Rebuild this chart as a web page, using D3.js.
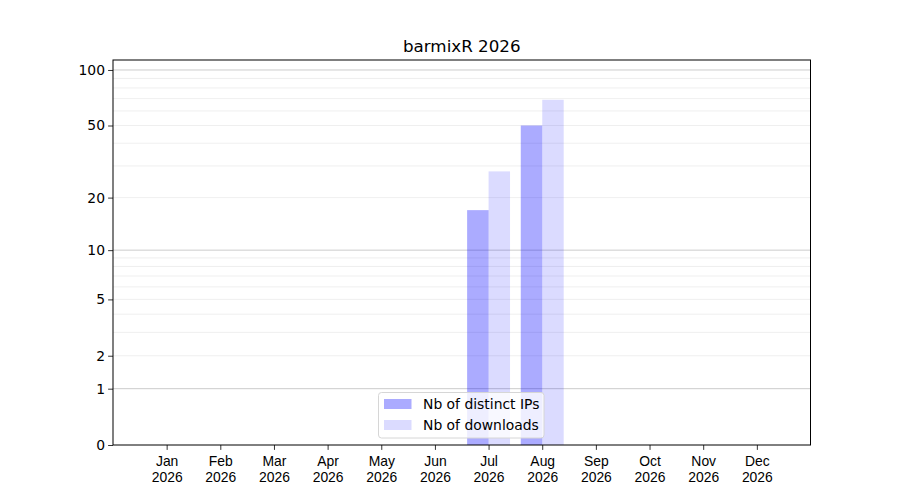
<!DOCTYPE html>
<html>
<head>
<meta charset="utf-8">
<script src="https://cdn.jsdelivr.net/npm/d3@7"></script>
<style>
  body { margin: 0; background: #fff; }
  svg { font-family: "DejaVu Sans", sans-serif; }
</style>
</head>
<body>
<svg id="chart"></svg>
<script>
// Data
const months = ['Jan', 'Feb', 'Mar', 'Apr', 'May', 'Jun', 'Jul', 'Aug', 'Sep', 'Oct', 'Nov', 'Dec'];
const year = '2026';
const distinctIPs = [0, 0, 0, 0, 0, 0, 17, 50, 0, 0, 0, 0];
const downloads = [0, 0, 0, 0, 0, 0, 28, 69, 0, 0, 0, 0];
const yTicks = [0, 1, 2, 5, 10, 20, 50, 100];
const majorGrid = [1, 10, 100];
const minorGrid = [2, 3, 4, 5, 6, 7, 8, 9, 20, 30, 40, 50, 60, 70, 80, 90];

const width = 900, height = 500;
const margin = {top: 60, right: 89.5, bottom: 55, left: 113};
const innerW = width - margin.left - margin.right;
const innerH = height - margin.top - margin.bottom;

const svg = d3.select('#chart')
    .attr('width', width)
    .attr('height', height);

const chart = svg.append('g')
    .attr('transform', `translate(${margin.left},${margin.top})`);

// Scales
const xScale = d3.scaleLinear()
    .domain([0, months.length + 1])
    .range([0, innerW]);

const yScale = d3.scaleSymlog()
    .constant(1)
    .domain([0, 113.2])
    .range([innerH, 0]);

const barW = 0.4;

// Grid lines
chart.selectAll('.minor-grid')
    .data(minorGrid)
  .join('line')
    .attr('class', 'minor-grid')
    .attr('x1', 0).attr('x2', innerW)
    .attr('y1', d => yScale(d)).attr('y2', d => yScale(d))
    .attr('stroke', '#ebebeb')
    .attr('stroke-width', 0.8);

chart.selectAll('.major-grid')
    .data(majorGrid)
  .join('line')
    .attr('class', 'major-grid')
    .attr('x1', 0).attr('x2', innerW)
    .attr('y1', d => yScale(d)).attr('y2', d => yScale(d))
    .attr('stroke', '#cccccc')
    .attr('stroke-width', 1);

// Bars
chart.selectAll('.bar-ip')
    .data(distinctIPs)
  .join('rect')
    .attr('class', 'bar-ip')
    .attr('x', (d, i) => xScale(i + 1 - barW))
    .attr('width', xScale(barW) - xScale(0))
    .attr('y', d => yScale(d))
    .attr('height', d => innerH - yScale(d))
    .attr('fill', '#0000ff')
    .attr('fill-opacity', 0.33);

chart.selectAll('.bar-dl')
    .data(downloads)
  .join('rect')
    .attr('class', 'bar-dl')
    .attr('x', (d, i) => xScale(i + 1))
    .attr('width', xScale(barW) - xScale(0))
    .attr('y', d => yScale(d))
    .attr('height', d => innerH - yScale(d))
    .attr('fill', '#0000ff')
    .attr('fill-opacity', 0.14);

// Axes
const xAxis = d3.axisBottom(xScale)
    .tickValues(d3.range(1, months.length + 1))
    .tickFormat('')
    .tickSize(4.9)
    .tickSizeOuter(0);

const yAxis = d3.axisLeft(yScale)
    .tickValues(yTicks)
    .tickFormat(d3.format('d'))
    .tickSize(4.9)
    .tickSizeOuter(0);

const xAxisG = chart.append('g')
    .attr('transform', `translate(0,${innerH})`)
    .call(xAxis);

xAxisG.selectAll('.tick').each(function(d) {
  const t = d3.select(this).append('text')
      .attr('fill', '#000')
      .attr('text-anchor', 'middle')
      .style('font-size', '13.9px');
  t.append('tspan').attr('x', 0).attr('y', 21).text(months[d - 1]);
  t.append('tspan').attr('x', 0).attr('y', 37).text(year);
});

const yAxisG = chart.append('g').call(yAxis);
yAxisG.selectAll('text')
    .attr('x', -8)
    .style('font-size', '13.9px')
    .style('font-family', '"DejaVu Sans", sans-serif');

[xAxisG, yAxisG].forEach(g => {
  g.select('.domain').remove();
  g.selectAll('.tick line').attr('stroke', '#000').attr('stroke-width', 0.8);
});

// Frame
chart.append('rect')
    .attr('width', innerW)
    .attr('height', innerH)
    .attr('fill', 'none')
    .attr('stroke', '#000')
    .attr('stroke-width', 1);

// Title
svg.append('text')
    .attr('x', margin.left + innerW / 2)
    .attr('y', margin.top - 8)
    .attr('text-anchor', 'middle')
    .style('font-size', '16.7px')
    .text(`barmixR ${year}`);

// Legend
const legendItems = [
  {label: 'Nb of distinct IPs', opacity: 0.33},
  {label: 'Nb of downloads', opacity: 0.14}
];
const legend = svg.append('g')
    .attr('transform', 'translate(378.5,392.5)');

legend.append('rect')
    .attr('width', 165.5)
    .attr('height', 45.5)
    .attr('rx', 3)
    .attr('fill', '#fff')
    .attr('fill-opacity', 0.8)
    .attr('stroke', '#d6d6d6')
    .attr('stroke-width', 1);

legendItems.forEach((item, i) => {
  const row = legend.append('g')
      .attr('transform', `translate(0,${6.5 + i * 21})`);
  row.append('rect')
      .attr('x', 5.5)
      .attr('width', 27.5)
      .attr('height', 10)
      .attr('fill', '#0000ff')
      .attr('fill-opacity', item.opacity);
  row.append('text')
      .attr('x', 44.5)
      .attr('y', 10)
      .style('font-size', '13.9px')
      .text(item.label);
});
</script>
</body>
</html>
